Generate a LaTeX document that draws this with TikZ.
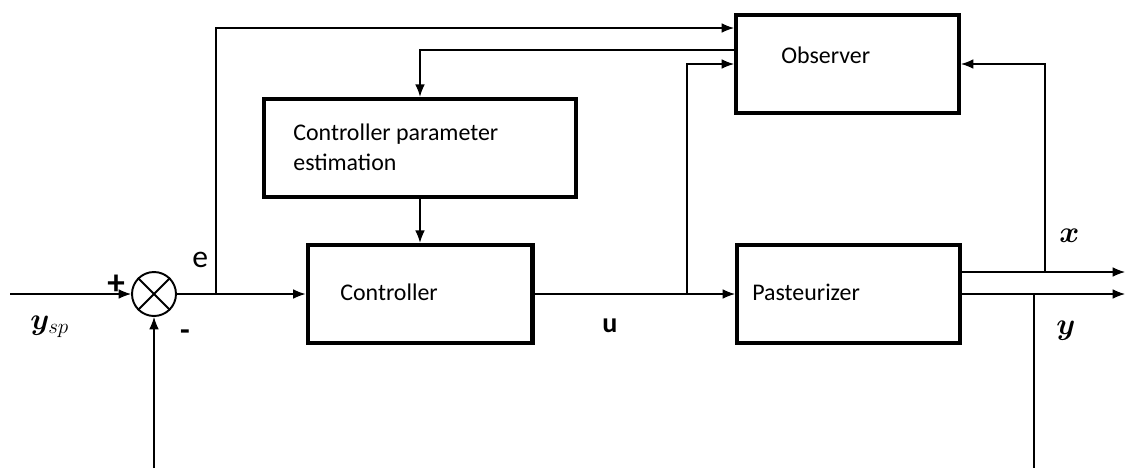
\documentclass[tikz,border=0pt]{standalone}
\usepackage{amsmath,bm}
\usepackage{fontspec}
\setmainfont{Carlito}
\usetikzlibrary{arrows.meta,calc}

\begin{document}
\begin{tikzpicture}[x=0.02cm,y=-0.02cm,
    block/.style={draw,line width=2.3pt,minimum height=1.97cm,inner sep=0pt},
    sig/.style={line width=0.7pt,-{Latex[length=7pt,width=5.5pt]}},
    wire/.style={line width=0.7pt},
    lbl/.style={anchor=base west,inner sep=0pt,font=\fontsize{13.6}{17}\selectfont},
    mlbl/.style={anchor=base west,inner sep=0pt,font=\fontsize{17}{20}\selectfont}]
    \useasboundingbox (0,0) rectangle (1125,468);
    % Blocks
    \node[block,minimum width=4.46cm] (obs) at (847.5,64) {};
    \node[block,minimum width=6.24cm] (cpe) at (420,148) {};
    \node[block,minimum width=4.5cm] (ctrl) at (420,294) {};
    \node[block,minimum width=4.46cm] (past) at (848.5,294) {};
    % Block texts
    \node[lbl] (obstxt) at (781,63) {Observer};
    \node[lbl] (cpetxta) at (293,140) {Controller parameter};
    \node[lbl] (cpetxtb) at (293,170) {estimation};
    \node[lbl] (ctrltxt) at (340,300) {Controller};
    \node[lbl] (pasttxt) at (752,300) {Pasteurizer};
    % Summing junction
    \node[circle,draw,line width=1.1pt,minimum size=0.88cm,inner sep=0pt] (sum) at (154,294) {};
    \draw[line width=1.1pt] (sum.north west) -- (sum.south east)
        (sum.north east) -- (sum.south west);
    % Branch points and free ends
    \coordinate (ysp) at (10,294);
    \coordinate (ej) at (216,294);
    \coordinate (uj) at (687,294);
    \coordinate (obsa) at ($(obs.west)+(0,-36)$);
    \coordinate (obsb) at ($(obs.west)+(0,-14)$);
    \coordinate (px) at ($(past.east)+(0,-22)$);
    \coordinate (xout) at (1125,272);
    \coordinate (yout) at (1125,294);
    \coordinate (xj) at (1045,272);
    \coordinate (yj) at (1034,294);
    \coordinate (ybot) at (1034,468);
    \coordinate (fb) at (154,468);
    % Signals
    \draw[sig] (ysp) -- (sum.west);
    \draw[sig] (sum.east) -- (ctrl.west);
    \draw[sig] (ej) |- (obsa);
    \draw[sig] (obsb) -| (cpe.north);
    \draw[sig] (cpe.south) -- (ctrl.north);
    \draw[sig] (ctrl.east) -- (past.west);
    \draw[sig] (uj) |- (obs.west);
    \draw[sig] (px) -- (xout);
    \draw[sig] (past.east) -- (yout);
    \draw[sig] (xj) |- (obs.east);
    \draw[wire] (yj) -- (ybot);
    \draw[sig] (fb) -- (sum.south);
    % Signal labels
    \node[mlbl] (ysplbl) at (30,329) {$\boldsymbol{y}_{sp}$};
    \node[mlbl] (xlbl) at (1059,242) {$\boldsymbol{x}$};
    \node[mlbl] (ylbl) at (1056,334) {$\boldsymbol{y}$};
    \node[anchor=base west,inner sep=0pt,font=\fontsize{16}{19}\selectfont\bfseries] (ulbl) at (602,332) {u};
    \node[anchor=base west,inner sep=0pt,font=\fontsize{18}{21}\selectfont] (elbl) at (192,267) {e};
    \node[inner sep=0pt,font=\fontsize{20}{24}\selectfont\bfseries] (plus) at (116,285) {+};
    \node[inner sep=0pt,font=\fontsize{18}{21}\selectfont\bfseries] (minus) at (185,335) {-};
\end{tikzpicture}
\end{document}
